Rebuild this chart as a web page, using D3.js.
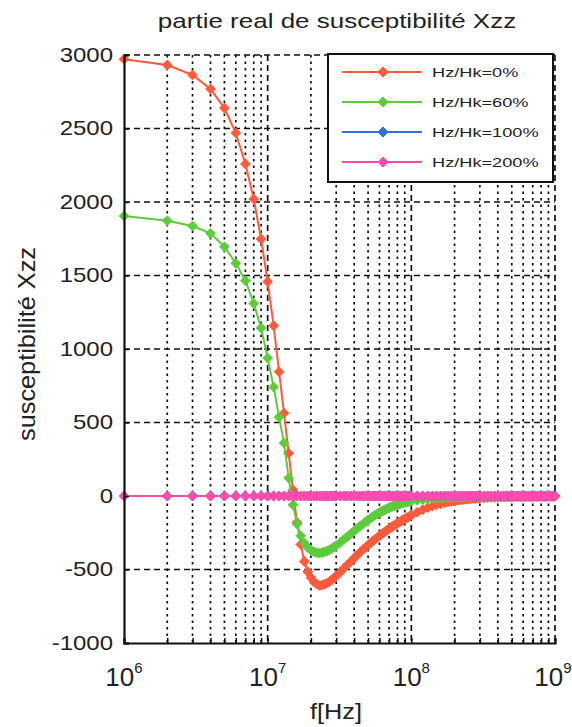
<!DOCTYPE html>
<html>
<head>
<meta charset="utf-8">
<script src="https://cdn.jsdelivr.net/npm/d3@7"></script>
<style>
  body { margin: 0; background: #fff; }
  svg { display: block; font-family: "Liberation Sans", Arial, sans-serif; }
</style>
</head>
<body>
<svg id="chart"></svg>
<script>
// frequencies in MHz (x positions of the markers)
const freqMHz = [1,2,3,4,5,6,7,8,9,
  10,11,12,13,14,15,16,17,18,19,20,21,22,23,24,25,26,27,28,29,30,
  32,34,36,38,40,42,44,46,48,50,52,54,56,58,60,62,64,66,68,70,
  72,74,76,78,80,82,84,86,88,90,92,94,96,98,100,
  110,120,130,140,150,160,170,180,190,200,210,220,230,240,250,260,270,280,290,300,
  320,340,360,380,400,420,440,460,480,500,520,540,560,580,600,620,640,660,680,700,
  720,740,760,780,800,820,840,860,880,900,920,940,960,980,1000];

const redVals = [2971,2932,2864,2769,2639,2469,2259,2020,1748,
  1458,1159,846,563,290,40,-180,-330,-445,-515,-555,-585,-600,-608,-605,-600,-592,-582,-570,-557,-544,
  -518,-492,-468,-445,-423,-402,-383,-365,-349,-334,-320,-306,-294,-282,-271,-260,-250,-241,-232,-223,
  -215,-207,-200,-193,-186,-179,-173,-167,-161,-156,-151,-146,-141,-136,-131,
  -110,-93,-80,-69,-60,-53,-47,-42,-37,-34,-30,-28,-25,-23,-21,-19,-18,-17,-15,-14,
  -13,-11,-10,-9,-8,-7,-7,-7,-6,-6,-6,-5,-5,-5,-5,-4,-4,-4,-4,-4,
  -3,-3,-3,-3,-3,-3,-3,-3,-2,-2,-2,-2,-2,-2,-2];

const greenVals = [1905,1873,1837,1787,1696,1583,1465,1310,1143,
  939,741,537,361,122,-60,-190,-270,-320,-350,-368,-380,-386,-387,-385,-380,-374,-366,-357,-347,-337,
  -316,-295,-275,-256,-238,-221,-205,-190,-176,-163,-151,-140,-130,-121,-113,-105,-98,-92,-86,-80,
  -75,-70,-66,-62,-58,-55,-52,-49,-46,-44,-42,-40,-38,-36,-35,
  -29,-25,-21,-18,-16,-14,-12,-11,-10,-9,-8,-7,-7,-6,-6,-5,-5,-4,-4,-4,
  -3,-3,-3,-3,-3,-2,-2,-2,-2,-2,-2,-2,-2,-2,-2,-1,-1,-1,-1,-1,
  -1,-1,-1,-1,-1,-1,-1,-1,-1,-1,-1,-1,-1,-1,-1];

const blueVals = [0,0,0,0,0,0,0,0,0,
  0,0,0,0,0,0,0,0,0,0,0,0,0,0,0,0,0,0,0,0,0,
  0,0,0,0,0,0,0,0,0,0,0,0,0,0,0,0,0,0,0,0,
  0,0,0,0,0,0,0,0,0,0,0,0,0,0,0,
  0,0,0,0,0,0,0,0,0,0,0,0,0,0,0,0,0,0,0,0,
  0,0,0,0,0,0,0,0,0,0,0,0,0,0,0,0,0,0,0,0,
  0,0,0,0,0,0,0,0,0,0,0,0,0,0,0];

const magentaVals = [0,0,0,0,0,0,0,0,0,
  0,0,0,0,0,0,0,0,0,0,0,0,0,0,0,0,0,0,0,0,0,
  0,0,0,0,0,0,0,0,0,0,0,0,0,0,0,0,0,0,0,0,
  0,0,0,0,0,0,0,0,0,0,0,0,0,0,0,
  0,0,0,0,0,0,0,0,0,0,0,0,0,0,0,0,0,0,0,0,
  0,0,0,0,0,0,0,0,0,0,0,0,0,0,0,0,0,0,0,0,
  0,0,0,0,0,0,0,0,0,0,0,0,0,0,0];

const seriesNames = ['Hz/Hk=0%', 'Hz/Hk=60%', 'Hz/Hk=100%', 'Hz/Hk=200%'];
const seriesColors = ['#ff5a3c', '#5ccc3c', '#2f72d6', '#ff4bb0'];
const yTicks = [-1000, -500, 0, 500, 1000, 1500, 2000, 2500, 3000];
const xDecades = [1e6, 1e7, 1e8, 1e9];

const svgWidth = 572;
const svgHeight = 727;
const margin = {left: 124, right: 17, top: 55, bottom: 84};
const plotW = svgWidth - margin.left - margin.right;
const plotH = svgHeight - margin.top - margin.bottom;
const textCol = '#222';

const svg = d3.select('#chart').attr('width', svgWidth).attr('height', svgHeight);

const xScale = d3.scaleLog().domain([1e6, 1e9]).range([margin.left, margin.left + plotW]);
const yScale = d3.scaleLinear().domain([-1000, 3000]).range([margin.top + plotH, margin.top]);

const series = [redVals, greenVals, blueVals, magentaVals].map((vals, i) => ({
  name: seriesNames[i],
  color: seriesColors[i],
  points: freqMHz.map((f, j) => ({f: f * 1e6, v: vals[j]}))
}));

// minor ticks 2..9 of each decade
const minorTicks = [];
xDecades.slice(0, -1).forEach(d => {
  for (let k = 2; k <= 9; k++) minorTicks.push(d * k);
});

const createGrid = () => {
  const g = svg.append('g').attr('class', 'grid');
  g.selectAll('.minor').data(minorTicks).enter().append('line')
    .attr('x1', d => xScale(d)).attr('x2', d => xScale(d))
    .attr('y1', margin.top).attr('y2', margin.top + plotH)
    .attr('stroke', '#111').attr('stroke-width', 1.7).attr('stroke-dasharray', '2.5,4');
  g.selectAll('.vmaj').data(xDecades.slice(1)).enter().append('line')
    .attr('x1', d => xScale(d)).attr('x2', d => xScale(d))
    .attr('y1', margin.top).attr('y2', margin.top + plotH)
    .attr('stroke', '#111').attr('stroke-width', 1.7).attr('stroke-dasharray', '6,4');
  g.selectAll('.hmaj').data(yTicks.slice(1)).enter().append('line')
    .attr('x1', margin.left).attr('x2', margin.left + plotW)
    .attr('y1', d => yScale(d)).attr('y2', d => yScale(d))
    .attr('stroke', '#111').attr('stroke-width', 1.7).attr('stroke-dasharray', '6,4');
};

// square diamond marker like matlab 'd'
const diamond = 'M0,-5L5,0L0,5L-5,0Z';

const createLines = () => {
  const line = d3.line().x(d => xScale(d.f)).y(d => yScale(d.v));
  series.forEach(s => {
    const g = svg.append('g');
    g.append('path').datum(s.points)
      .attr('d', line).attr('fill', 'none')
      .attr('stroke', s.color).attr('stroke-width', 2);
    g.selectAll('path.mk').data(s.points).enter().append('path')
      .attr('class', 'mk')
      .attr('d', diamond)
      .attr('transform', d => 'translate(' + xScale(d.f) + ',' + yScale(d.v) + ')')
      .attr('fill', s.color).attr('stroke', s.color).attr('stroke-width', 0.8);
  });
};

const createAxes = () => {
  const yAxis = d3.axisLeft(yScale).tickValues(yTicks).tickSize(-5).tickPadding(9).tickFormat(d => String(d));
  const ya = svg.append('g').attr('transform', 'translate(' + margin.left + ',0)').call(yAxis);
  ya.select('.domain').attr('stroke', '#111').attr('stroke-width', 2.2);
  ya.selectAll('.tick line').attr('stroke', '#111').attr('stroke-width', 1.5);
  ya.selectAll('.tick text')
    .attr('fill', textCol).attr('font-size', 20)
    .attr('transform', 'scale(1.2,1)').attr('x', -11 / 1.2);

  const xAxis = d3.axisBottom(xScale).tickValues(minorTicks.concat(xDecades)).tickSize(-5).tickFormat('');
  const xa = svg.append('g').attr('transform', 'translate(0,' + (margin.top + plotH) + ')').call(xAxis);
  xa.select('.domain').attr('stroke', '#111').attr('stroke-width', 2.2);
  xa.selectAll('.tick line').attr('stroke', '#111').attr('stroke-width', 1.5);

  // decade labels 10^n
  const lab = svg.append('g').attr('fill', textCol);
  xDecades.forEach((d, i) => {
    const t = lab.append('text')
      .attr('x', Math.min(xScale(d), 553)).attr('y', margin.top + plotH + 43)
      .attr('text-anchor', 'middle');
    t.append('tspan').attr('font-size', 26).text('10');
    t.append('tspan').attr('font-size', 15).attr('dy', -13).text(Math.round(Math.log10(d)));
  });

  svg.append('text')
    .attr('transform', 'translate(336,719) scale(1.15,1)')
    .attr('text-anchor', 'middle').attr('font-size', 22).attr('fill', textCol)
    .text('f[Hz]');

  svg.append('text')
    .attr('transform', 'translate(35,344) rotate(-90) scale(1.1,1)')
    .attr('text-anchor', 'middle').attr('font-size', 23).attr('fill', textCol)
    .text('susceptibilité Xzz');

  svg.append('text')
    .attr('transform', 'translate(337,28) scale(1.3,1)')
    .attr('text-anchor', 'middle').attr('font-size', 20).attr('fill', textCol)
    .text('partie real de susceptibilité Xzz');
};

const createLegend = () => {
  const lg = svg.append('g');
  lg.append('rect')
    .attr('x', 328).attr('y', 54).attr('width', 225).attr('height', 128)
    .attr('fill', '#fff').attr('stroke', '#111').attr('stroke-width', 2);
  series.forEach((s, i) => {
    const y = 72 + i * 30;
    lg.append('line').attr('x1', 342).attr('x2', 422).attr('y1', y).attr('y2', y)
      .attr('stroke', s.color).attr('stroke-width', 2);
    lg.append('path').attr('d', diamond).attr('transform', 'translate(383,' + y + ')')
      .attr('fill', s.color).attr('stroke', s.color);
    lg.append('text')
      .attr('transform', 'translate(432,' + (y + 5) + ') scale(1.4,1)')
      .attr('font-size', 13).attr('fill', textCol)
      .text(s.name);
  });
};

createGrid();
createLines();
createAxes();
createLegend();
</script>
</body>
</html>
